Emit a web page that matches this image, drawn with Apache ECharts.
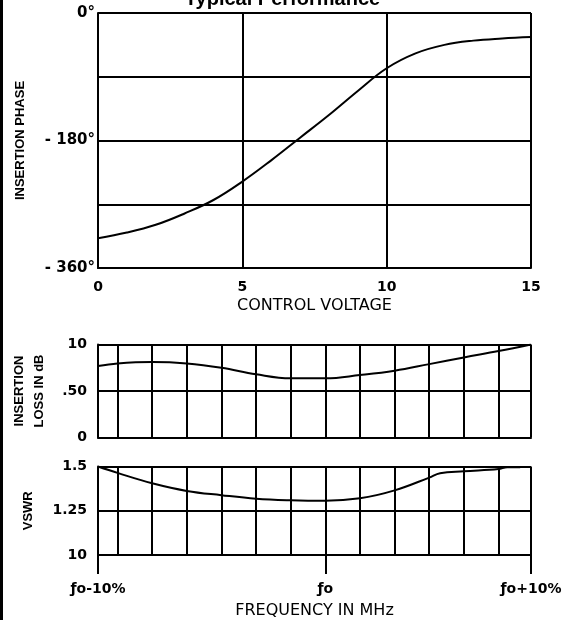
<!DOCTYPE html>
<html>
<head>
<meta charset="utf-8">
<script src="https://cdn.jsdelivr.net/npm/echarts@6/dist/echarts.min.js"></script>
<style>
html,body{margin:0;padding:0;background:#fff;}
#chart{width:565px;height:620px;}
</style>
</head>
<body>
<div id="chart"></div>
<script>
// ---- data ----
const controlVoltage = [0,1,2,3,4,5,6,7,8,9,10,11,12,13,14,15];
const insertionPhase = [-318,-310,-299,-283,-264,-238,-208,-176,-144,-110,-78,-57,-45,-39,-36,-34];

const freqGridTicks = [-9.1,-7.5,-5.9,-4.3,-2.7,-1.1,0.5,2.1,3.7,5.3,6.9,8.5,10];
const freqLabelTicks = [-10,0.5,10];
const freqLabelText = ['ƒo-10%','ƒo','ƒo+10%'];

const lossFreq = [-10,-9.1,-7.5,-5.9,-4.3,-2.7,-1.1,0.5,2.1,3.7,5.3,6.9,8.5,10];
const lossDb = [0.768,0.796,0.811,0.796,0.75,0.679,0.636,0.636,0.671,0.718,0.789,0.861,0.929,1.0];

const vswrFreq = [-10,-9.1,-7.5,-5.9,-4.3,-2.7,-1.1,0.5,2.1,3.7,5.3,5.8,6.9,8.5,8.9,9.5];
const vswrVal = [1.5,1.464,1.405,1.362,1.338,1.318,1.309,1.306,1.32,1.365,1.437,1.462,1.473,1.486,1.496,1.496];

const phaseTickLabels = {'0':'0°','-180':'- 180°','-360':'- 360°'};
const lossTickLabels = {'0':'0','0.5':'.50','1':'10'};
const vswrTickLabels = {'1':'10','1.25':'1.25','1.5':'1.5'};
// --------------

const pairs = (xs, ys) => xs.map((x, i) => [x, ys[i]]);
const LINE = {color:'#000', width:2};
const AXLINE = {show:true, onZero:false, lineStyle:LINE};
const tickFont = {color:'#000', fontFamily:'DejaVu Sans', fontWeight:'bold', fontSize:14};
const nameFont = {color:'#000', fontFamily:'DejaVu Sans', fontSize:16};
const boldNum = {color:'#000', fontFamily:'DejaVu Sans', fontWeight:'bold', fontSize:13};
const yName = {color:'#000', fontFamily:'Liberation Sans', fontWeight:'bold', fontSize:13, lineHeight:20};

const chart = echarts.init(document.getElementById('chart'), null, {renderer:'canvas'});
chart.setOption({
  animation:false,
  backgroundColor:'#fff',
  title:{
    text:'Typical Performance', left:'center', top:-16,
    textStyle:{color:'#000', fontFamily:'Liberation Sans', fontWeight:'bold', fontSize:20}
  },
  graphic:[{type:'rect', left:0, top:0, shape:{width:3, height:620}, style:{fill:'#000'}}],
  grid:[
    {left:98, right:34, top:13, height:255},
    {left:98, right:34, top:344.5, height:93},
    {left:98, right:34, top:466.5, height:93}
  ],
  xAxis:[
    {
      gridIndex:0, type:'value', min:0, max:15, interval:5,
      axisLine:AXLINE, axisTick:{show:false},
      splitLine:{show:true, lineStyle:LINE},
      axisLabel:Object.assign({margin:12}, tickFont),
      name:'CONTROL VOLTAGE', nameLocation:'middle', nameGap:30,
      nameTextStyle:nameFont
    },
    {
      gridIndex:1, type:'value', min:-10, max:10,
      axisLine:AXLINE,
      axisTick:{show:false, customValues:freqGridTicks},
      splitLine:{show:true, lineStyle:LINE},
      axisLabel:{show:false}
    },
    {
      gridIndex:2, type:'value', min:-10, max:10,
      axisLine:AXLINE,
      axisTick:{show:false, customValues:freqGridTicks},
      splitLine:{show:true, lineStyle:LINE},
      axisLabel:{show:false}
    },
    {
      gridIndex:2, type:'value', min:-10, max:10, position:'bottom',
      axisLine:{show:false, onZero:false},
      axisTick:{show:true, length:19, lineStyle:LINE, customValues:freqLabelTicks},
      splitLine:{show:false},
      axisLabel:Object.assign({
        customValues:freqLabelTicks, margin:27,
        formatter:v => freqLabelText[freqLabelTicks.indexOf(v)] || ''
      }, boldNum, {fontSize:14}),
      name:'FREQUENCY IN MHz', nameLocation:'middle', nameGap:48,
      nameTextStyle:nameFont
    }
  ],
  yAxis:[
    {
      gridIndex:0, type:'value', min:-360, max:0, interval:90,
      axisLine:AXLINE, axisTick:{show:false},
      splitLine:{show:true, lineStyle:LINE},
      axisLabel:Object.assign({margin:3, formatter:v => phaseTickLabels[String(v)] || ''}, tickFont, {fontSize:15}),
      name:'INSERTION PHASE', nameLocation:'middle', nameRotate:90, nameGap:68,
      nameTextStyle:yName
    },
    {
      gridIndex:1, type:'value', min:0, max:1, interval:0.5,
      axisLine:AXLINE, axisTick:{show:false},
      splitLine:{show:true, lineStyle:LINE},
      axisLabel:Object.assign({margin:11, formatter:v => lossTickLabels[String(v)] || ''}, boldNum, {fontSize:14}),
      name:'INSERTION\nLOSS IN dB', nameLocation:'middle', nameRotate:90, nameGap:49,
      nameTextStyle:yName
    },
    {
      gridIndex:2, type:'value', min:1, max:1.5, interval:0.25,
      axisLine:AXLINE, axisTick:{show:false},
      splitLine:{show:true, lineStyle:LINE},
      axisLabel:Object.assign({margin:11, formatter:v => vswrTickLabels[String(v)] || ''}, boldNum, {fontSize:14}),
      name:'VSWR', nameLocation:'middle', nameRotate:90, nameGap:60,
      nameTextStyle:yName
    }
  ],
  series:[
    {type:'line', xAxisIndex:0, yAxisIndex:0, data:pairs(controlVoltage, insertionPhase),
     smooth:0.4, showSymbol:false, lineStyle:LINE},
    {type:'line', xAxisIndex:1, yAxisIndex:1, data:pairs(lossFreq, lossDb),
     smooth:0.4, showSymbol:false, lineStyle:LINE},
    {type:'line', xAxisIndex:2, yAxisIndex:2, data:pairs(vswrFreq, vswrVal),
     smooth:0.4, showSymbol:false, lineStyle:LINE}
  ]
});
</script>
</body>
</html>
